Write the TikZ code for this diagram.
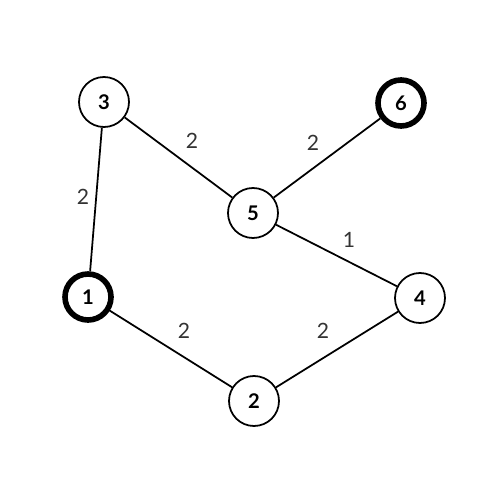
\documentclass[tikz,border=0pt]{standalone}
\usepackage{fontspec}
\setmainfont{Lato}
\begin{document}
\begin{tikzpicture}[x=0.02cm,y=-0.02cm,
  vert/.style={circle,draw,line width=1pt,minimum size=50*0.02cm,inner sep=0pt,font=\bfseries\fontsize{11.5}{13}\selectfont,fill=white},
  goal/.style={vert,line width=3.2pt,minimum size=46*0.02cm},
  wt/.style={font=\fontsize{12}{14}\selectfont,text=black!80},
  edge/.style={line width=1pt}]
\useasboundingbox (0,0) rectangle (500,500);
\node[vert] (n3) at (104,102) {3};
\node[goal] (n6) at (401,103) {6};
\node[vert] (n5) at (253,213) {5};
\node[goal] (n1) at (88,297) {1};
\node[vert] (n4) at (420,298) {4};
\node[vert] (n2) at (254,401) {2};
\draw[edge] (n3) -- (n5);
\draw[edge] (n5) -- (n6);
\draw[edge] (n3) -- (n1);
\draw[edge] (n5) -- (n4);
\draw[edge] (n1) -- (n2);
\draw[edge] (n2) -- (n4);
\node[wt] (w35) at (192,141) {2};
\node[wt] (w56) at (313,143) {2};
\node[wt] (w31) at (83,197) {2};
\node[wt] (w54) at (349,240) {1};
\node[wt] (w12) at (184,331) {2};
\node[wt] (w24) at (323,331) {2};
\end{tikzpicture}
\end{document}
